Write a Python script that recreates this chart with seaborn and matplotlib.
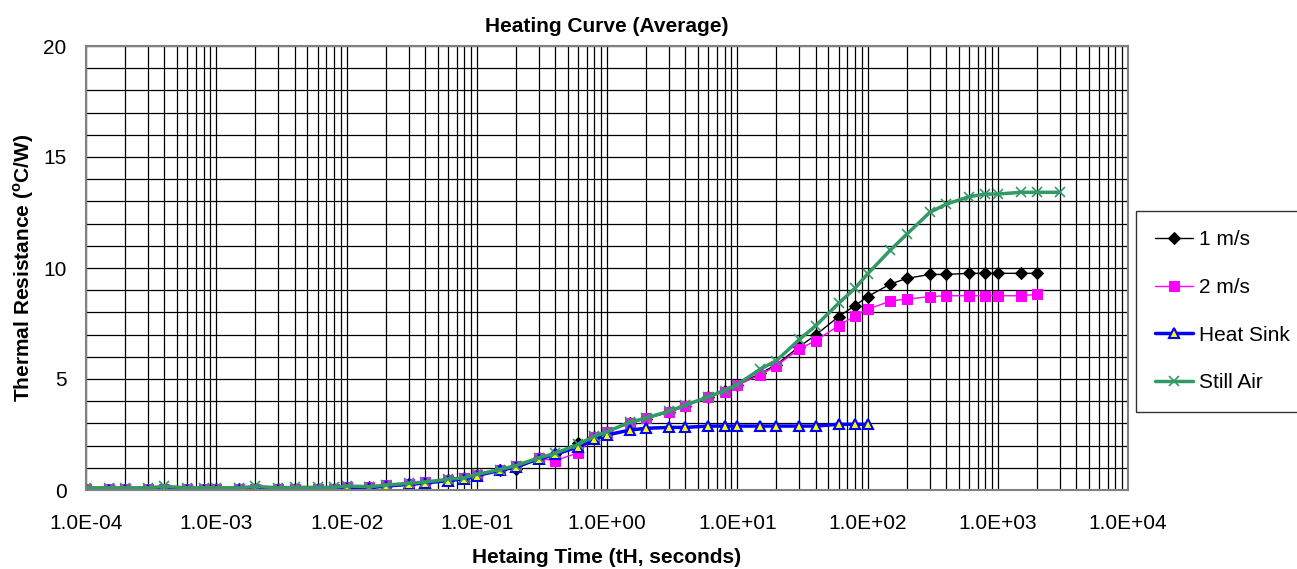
import matplotlib
matplotlib.use("Agg")
import matplotlib.pyplot as plt
import matplotlib.ticker as mticker
import seaborn as sns
import pandas as pd

# heating time points (s), 1-1.5-2-3-4-6-8 per decade
time = [1e-4, 1.5e-4, 2e-4, 3e-4, 4e-4, 6e-4, 8e-4,
        1e-3, 1.5e-3, 2e-3, 3e-3, 4e-3, 6e-3, 8e-3,
        1e-2, 1.5e-2, 2e-2, 3e-2, 4e-2, 6e-2, 8e-2,
        1e-1, 1.5e-1, 2e-1, 3e-1, 4e-1, 6e-1, 8e-1,
        1, 1.5, 2, 3, 4, 6, 8,
        10, 15, 20, 30, 40, 60, 80,
        100, 150, 200, 300, 400, 600, 800,
        1000, 1500, 2000, 3000]

r_1ms = [0.02, 0.02, 0.02, 0.02, 0.02, 0.02, 0.02,
         0.03, 0.03, 0.03, 0.03, 0.03, 0.03, 0.03,
         0.10, 0.12, 0.18, 0.25, 0.32, 0.45, 0.53,
         0.68, 0.90, 0.95, 1.43, 1.62, 2.13, 2.40,
         2.63, 3.00, 3.22, 3.50, 3.78, 4.20, 4.45,
         4.72, 5.25, 5.65, 6.46, 6.98, 7.81, 8.30,
         8.71, 9.28, 9.53, 9.71, 9.71, 9.76, 9.76,
         9.76, 9.76, 9.76]

r_2ms = [0.05, 0.05, 0.05, 0.05, 0.05, 0.05, 0.05,
         0.05, 0.05, 0.05, 0.05, 0.05, 0.05, 0.05,
         0.12, 0.12, 0.22, 0.27, 0.35, 0.45, 0.53,
         0.68, 0.90, 1.08, 1.43, 1.32, 1.68, 2.40,
         2.63, 3.03, 3.23, 3.50, 3.80, 4.20, 4.43,
         4.73, 5.18, 5.60, 6.35, 6.73, 7.40, 7.85,
         8.14, 8.51, 8.60, 8.71, 8.75, 8.75, 8.75,
         8.75, 8.75, 8.81]

r_sink = [0.02, 0.02, 0.02, 0.02, 0.02, 0.02, 0.02,
          0.02, 0.02, 0.02, 0.02, 0.02, 0.02, 0.02,
          0.08, 0.10, 0.18, 0.25, 0.32, 0.42, 0.50,
          0.65, 0.88, 1.05, 1.40, 1.60, 1.95, 2.28,
          2.48, 2.70, 2.78, 2.82, 2.82, 2.88, 2.88,
          2.88, 2.88, 2.88, 2.88, 2.88, 2.96, 2.96,
          2.96]

r_air = [0.10, 0.10, 0.10, 0.10, 0.16, 0.10, 0.10,
         0.10, 0.10, 0.16, 0.10, 0.12, 0.12, 0.12,
         0.18, 0.15, 0.22, 0.30, 0.36, 0.48, 0.55,
         0.70, 0.92, 1.10, 1.45, 1.65, 2.05, 2.42,
         2.63, 3.05, 3.25, 3.55, 3.82, 4.20, 4.48,
         4.75, 5.44, 5.83, 6.78, 7.40, 8.41, 9.08,
         9.73, 10.81, 11.52, 12.50, 12.87, 13.21, 13.33,
         13.33, 13.41, 13.41, 13.41]

decades = [1e-4, 1e-3, 1e-2, 1e-1, 1e0, 1e1, 1e2, 1e3, 1e4]

sns.set_style("white")
plt.rcParams['font.family'] = ['Liberation Sans', 'DejaVu Sans']
plt.rcParams['mathtext.fontset'] = 'custom'
plt.rcParams['mathtext.rm'] = 'Liberation Sans:bold'
plt.rcParams['text.color'] = 'black'
plt.rcParams['axes.labelcolor'] = 'black'
plt.rcParams['xtick.labelcolor'] = 'black'
plt.rcParams['ytick.labelcolor'] = 'black'

fig = plt.figure(figsize=(12.97, 5.69), dpi=100)
ax = fig.add_axes([86/1297, 1 - 490/569, 1042/1297, 444/569])

series = [
    ("1 m/s", time[:len(r_1ms)], r_1ms, dict(color="black", lw=1.0, marker="D", ms=6.5,
                                              mfc="black", mec="black")),
    ("2 m/s", time[:len(r_2ms)], r_2ms, dict(color="#FF00FF", lw=1.0, marker="s", ms=7,
                                              mfc="#FF00FF", mec="#FF00FF")),
    ("Heat Sink", time[:len(r_sink)], r_sink, dict(color="#0000FF", lw=2.5, marker="^", ms=7.5,
                                                   mfc="#FFFF00", mec="#0000FF", mew=1.5)),
    ("Still Air", time[:len(r_air)], r_air, dict(color="#339966", lw=2.5, marker="x", ms=7.5,
                                                 mec="#339966", mew=1.2)),
]

for name, t, r, kw in series:
    df = pd.DataFrame({"t": t, "r": r})
    sns.lineplot(data=df, x="t", y="r", ax=ax, label=name, estimator=None, **kw)

ax.set_xscale("log")
ax.set_xlim(1e-4, 1e4)
ax.set_ylim(0, 20)
ax.xaxis.set_major_locator(mticker.FixedLocator(decades))
ax.xaxis.set_minor_locator(mticker.FixedLocator([d * k for d in decades[:-1] for k in range(2, 10)]))
ax.xaxis.set_major_formatter(mticker.FuncFormatter(lambda v, p: "%.1E" % v))
ax.xaxis.set_minor_formatter(mticker.NullFormatter())
ax.yaxis.set_major_locator(mticker.FixedLocator([0, 5, 10, 15, 20]))
ax.yaxis.set_minor_locator(mticker.FixedLocator(range(1, 20)))

ax.grid(True, which="both", color="black", lw=0.9)
ax.set_axisbelow(True)
ax.tick_params(which="major", length=6, width=1, color="#808080", labelsize=15,
               labelcolor="black", direction="out")
ax.tick_params(axis="x", which="major", pad=11)
ax.tick_params(axis="y", which="major", pad=8)
ax.tick_params(which="minor", length=0)
for s in ax.spines.values():
    s.set_color("#808080")
    s.set_linewidth(1.5)

ax.set_title("Heating Curve (Average)", fontsize=15, fontweight="bold", pad=10, color="black")
ax.set_xlabel("Hetaing Time (tH, seconds)", fontsize=15, fontweight="bold", labelpad=11)
ax.set_ylabel(r"Thermal Resistance ($^{\mathrm{o}}$C/W)", fontsize=15, fontweight="bold", labelpad=5)

leg = ax.legend(loc="upper left", bbox_to_anchor=(1136/1297, 1 - 211/569),
                bbox_transform=fig.transFigure, borderaxespad=0, fontsize=15,
                frameon=True, fancybox=False, edgecolor="black", labelspacing=1.38,
                handlelength=1.8, handletextpad=0.3, borderpad=0.92, labelcolor="black")
leg.get_frame().set_linewidth(1.0)

fig.savefig("out.png", dpi=100)
